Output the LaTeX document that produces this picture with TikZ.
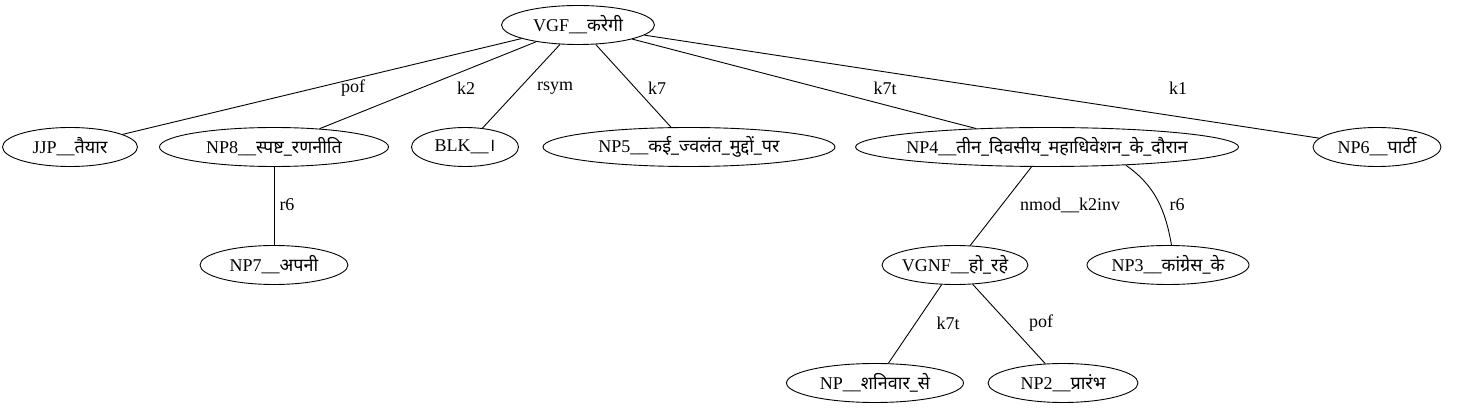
\documentclass[tikz,border=0pt]{standalone}
\usepackage{fontspec}
\setmainfont{Liberation Serif}
\newfontfamily\devfont[Script=Devanagari]{Noto Sans}
\newcommand{\dv}[1]{{\devfont #1}}
\usetikzlibrary{shapes.geometric}

\begin{document}
\begin{tikzpicture}[x=1pt,y=-1pt,font=\fontsize{18}{20}\selectfont,line width=0.9pt,
    tok/.style={draw,ellipse,inner xsep=-15pt,inner ysep=-6pt,minimum height=39pt},
    lbl/.style={inner sep=1pt}]
  \useasboundingbox (0,0) rectangle (1457,411);
  % words
  \node[tok,minimum width=153pt] (vgf) at (578,25) {VGF\_\_\dv{करेगी}};
  \node[tok,minimum width=135pt] (jjp) at (70,147) {JJP\_\_\dv{तैयार}};
  \node[tok,minimum width=229pt] (np8) at (274,147) {NP8\_\_\dv{स्पष्ट\_रणनीति}};
  \node[tok,minimum width=107pt] (blk) at (465,147) {BLK\_\_\dv{।}};
  \node[tok,minimum width=292pt] (np5) at (689,147) {NP5\_\_\dv{कई\_ज्वलंत\_मुद्दों\_पर}};
  \node[tok,minimum width=383pt] (np4) at (1047,147) {NP4\_\_\dv{तीन\_दिवसीय\_महाधिवेशन\_के\_दौरान}};
  \node[tok,minimum width=128pt] (np6) at (1377,147) {NP6\_\_\dv{पार्टी}};
  \node[tok,minimum width=148pt] (np7) at (274,265) {NP7\_\_\dv{अपनी}};
  \node[tok,minimum width=146pt] (vgnf) at (955,265) {VGNF\_\_\dv{हो\_रहे}};
  \node[tok,minimum width=162pt] (np3) at (1168,265) {NP3\_\_\dv{कांग्रेस\_के}};
  \node[tok,minimum width=177pt] (np) at (875,383) {NP\_\_\dv{शनिवार\_से}};
  \node[tok,minimum width=150pt] (np2) at (1063,383) {NP2\_\_\dv{प्रारंभ}};
  % relations
  \draw (vgf) -- (jjp) node[lbl] at (353,88) {pof};
  \draw (vgf) -- (np8) node[lbl] at (466,88) {k2};
  \draw (vgf) -- (blk) node[lbl] at (555,88) {rsym};
  \draw (vgf) -- (np5) node[lbl] at (657,88) {k7};
  \draw (vgf) -- (np4) node[lbl] at (885,88) {k7t};
  \draw (vgf) -- (np6) node[lbl] at (1178,88) {k1};
  \draw (np8) -- (np7) node[lbl] at (287,205) {r6};
  \draw (np4) -- (vgnf) node[lbl] at (1070,205) {nmod\_\_k2inv};
  \draw (np4.347) to[out=-35,in=100] (np3.80) node[lbl] at (1177,205) {r6};
  \draw (vgnf) -- (np) node[lbl] at (948,323) {k7t};
  \draw (vgnf) -- (np2) node[lbl] at (1041,323) {pof};
\end{tikzpicture}
\end{document}
